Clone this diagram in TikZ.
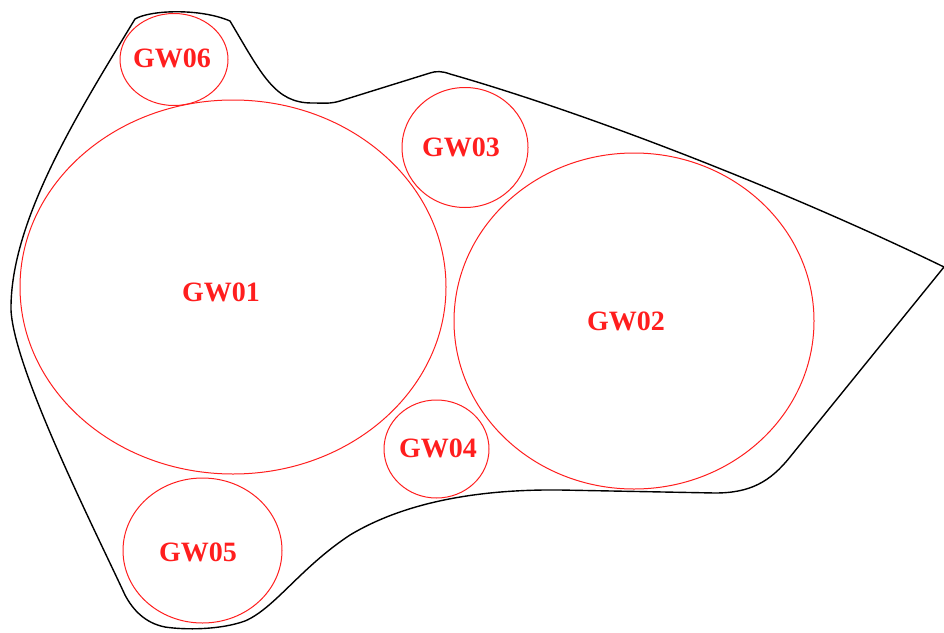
\documentclass[tikz,border=0pt]{standalone}
\usepackage{fontspec}
\setmainfont{Liberation Serif}
\definecolor{zonered}{RGB}{255,30,30}
\begin{document}
\begin{tikzpicture}[x=1pt,y=-1pt,
  zone/.style={draw=zonered,line width=1pt},
  outline/.style={draw=black,line width=1.4pt,line join=round},
  tag/.style={text=zonered,font=\fontsize{28}{28}\selectfont\bfseries,inner sep=0pt,anchor=center}]
\useasboundingbox (0,0) rectangle (944,632);

% boundary of the site
\draw[outline] (135,19) .. controls (150,10) and (200,8) .. (230,21)
  .. controls (262,75) and (275,103) .. (312,103)
  .. controls (325,103) and (330,104) .. (340,101)
  -- (430,73) .. controls (436,71) and (442,71) .. (450,74)
  .. controls (600,117) and (800,197) .. (944,267)
  -- (790,457) .. controls (770,482) and (750,493) .. (715,493)
  -- (560,490) .. controls (470,489) and (400,505) .. (350,535)
  .. controls (300,568) and (275,608) .. (245,621)
  .. controls (220,630) and (185,630) .. (165,627)
  .. controls (145,623) and (133,610) .. (125,595)
  .. controls (95,530) and (14,370) .. (11,310)
  .. controls (10,220) and (80,110) .. (135,19) -- cycle;

% zones
\draw[zone] (174,59.5) ellipse [x radius=54, y radius=46];
\draw[zone] (233,287) ellipse [x radius=213, y radius=187];
\draw[zone] (465,147.5) ellipse [x radius=63, y radius=60];
\draw[zone] (634,321) ellipse [x radius=180, y radius=168];
\draw[zone] (436.5,449) ellipse [x radius=52.5, y radius=49];
\draw[zone] (202.5,550.5) ellipse [x radius=79.5, y radius=72.5];

% zone labels
\node[tag] (gw06) at (172,58) {GW06};
\node[tag] (gw01) at (221,292) {GW01};
\node[tag] (gw03) at (461,147) {GW03};
\node[tag] (gw02) at (626,321) {GW02};
\node[tag] (gw04) at (438,448) {GW04};
\node[tag] (gw05) at (198,552) {GW05};
\end{tikzpicture}
\end{document}
